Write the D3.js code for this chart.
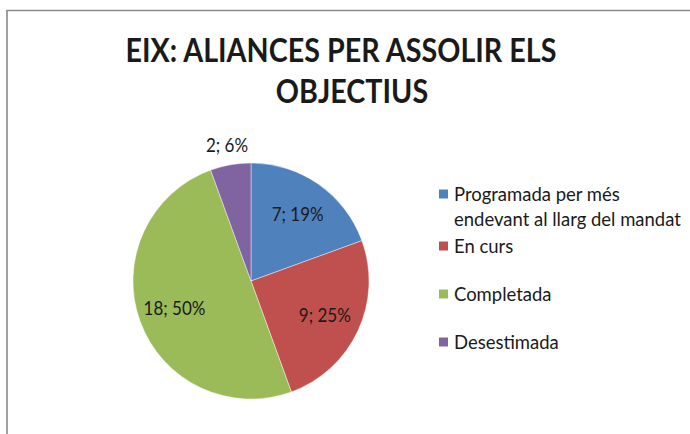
<!DOCTYPE html>
<html>
<head>
<meta charset="utf-8">
<script src="https://cdn.jsdelivr.net/npm/d3@7"></script>
<style>
  body { margin: 0; background: #fff; }
  text { font-family: Lato, "Noto Sans", sans-serif; fill: #1a1a1a; }
</style>
</head>
<body>
<div id="container"></div>
<script>
var width = 690,
    height = 434;

// chart data
var categories = ["Programada per més endevant al llarg del mandat", "En curs", "Completada", "Desestimada"];
var legendLines = [["Programada per més", "endevant al llarg del mandat"], ["En curs"], ["Completada"], ["Desestimada"]];
var values = [7, 9, 18, 2];
var colors = ["#4F81BD", "#C0504D", "#9BBB59", "#8064A2"];
var titleLines = ["EIX: ALIANCES PER ASSOLIR ELS", "OBJECTIUS"];

var svg = d3.select("#container").append("svg")
    .attr("width", width)
    .attr("height", height);

// chart frame (only top and left visible)
svg.append("path")
    .attr("d", "M7,434 L7,10.5 L690,10.5")
    .attr("fill", "none")
    .attr("stroke", "#8a8a8a")
    .attr("stroke-width", 1.6);

// shrink / grow font so a text fits a given width
function fitText(sel, target, size) {
    sel.style("font-size", size + "px");
    var w = sel.node().getComputedTextLength();
    var s = size * target / w;
    sel.style("font-size", s + "px");
    return s;
}

// title (stretched a bit vertically, Calibri is narrower than Lato)
var tg1 = svg.append("g").attr("transform", "translate(341,62) scale(1,1.12)");
var t1 = tg1.append("text")
    .attr("text-anchor", "middle")
    .style("font-weight", "bold")
    .text(titleLines[0]);
var tSize = fitText(t1, 431, 30);
svg.append("g").attr("transform", "translate(352,103) scale(1,1.12)")
    .append("text")
    .attr("text-anchor", "middle")
    .style("font-weight", "bold")
    .style("font-size", tSize + "px")
    .text(titleLines[1]);

// pie
var cx = 251, cy = 281, r = 118;
var total = d3.sum(values);
var pie = d3.pie().sort(null).value(d => d);
var arcs = pie(values);
var arc = d3.arc().innerRadius(0).outerRadius(r);
var labelArc = d3.arc().innerRadius(r * 0.69).outerRadius(r * 0.69);
var outArc = d3.arc().innerRadius(r + 20).outerRadius(r + 20);

var g = svg.append("g").attr("transform", "translate(" + cx + "," + cy + ")");

g.selectAll("path.slice")
    .data(arcs)
    .enter().append("path")
    .attr("class", "slice")
    .attr("d", arc)
    .attr("fill", (d, i) => colors[i])
    .attr("stroke", "#ffffff")
    .attr("stroke-width", 0.6)
    .attr("stroke-opacity", 0.7);

// probe label font size
var probe = svg.append("text").text("7; 19%");
var lSize = fitText(probe, 52, 15);
probe.remove();

g.selectAll("text.lbl")
    .data(arcs)
    .enter().append("text")
    .attr("class", "lbl")
    .attr("transform", d => {
        var c = (d.endAngle - d.startAngle) < 0.5 ? outArc.centroid(d) : labelArc.centroid(d);
        return "translate(" + c + ") scale(1,1.08)";
    })
    .attr("text-anchor", "middle")
    .attr("dy", "0.36em")
    .style("font-size", lSize + "px")
    .text(d => d.data + "; " + Math.round(d.data / total * 100) + "%");

// legend
var legY = [194, 246, 294, 342];
var lineH = 25.5;
var probe2 = svg.append("text").text(legendLines[0][1]);
var legSize = fitText(probe2, 227, 15);
probe2.remove();

var leg = svg.append("g");
var items = leg.selectAll("g.item")
    .data(categories)
    .enter().append("g")
    .attr("class", "item")
    .attr("transform", (d, i) => "translate(0," + legY[i] + ")");

items.append("rect")
    .attr("x", 439).attr("y", -4.5)
    .attr("width", 9).attr("height", 9)
    .attr("fill", (d, i) => colors[i]);

items.each(function (d, i) {
    var t = d3.select(this).append("text")
        .attr("x", 454)
        .style("font-size", legSize + "px");
    legendLines[i].forEach((ln, j) => {
        t.append("tspan")
            .attr("x", 454)
            .attr("y", j * lineH)
            .attr("dy", "0.36em")
            .text(ln);
    });
});
</script>
</body>
</html>
